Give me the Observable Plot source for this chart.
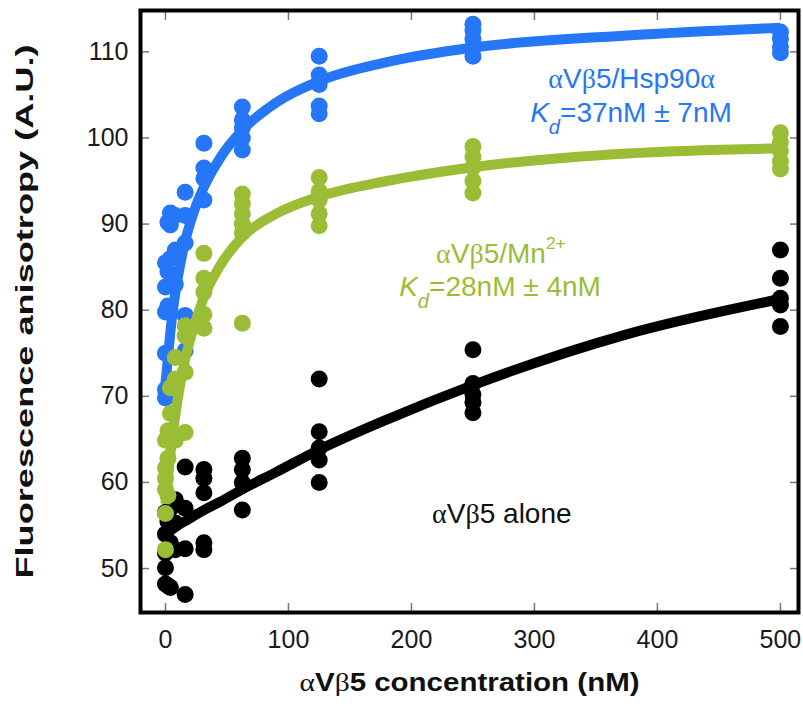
<!DOCTYPE html>
<html>
<head>
<meta charset="utf-8">
<script src="https://cdn.jsdelivr.net/npm/d3@7"></script>
<script src="https://cdn.jsdelivr.net/npm/@observablehq/plot@0.6"></script>
<style>
  html, body { margin: 0; padding: 0; background: #fff; overflow: hidden; }
</style>
</head>
<body>
<div id="chart"></div>
<script>
// Ligand concentrations (nM) of the titration
const concentrations = [0, 2, 4, 8, 16, 31.25, 62.5, 125, 250, 500];

// Replicate anisotropy readings (A.U.) at each concentration
const aloneReadings = [
  [56.5, 54.0, 51.8, 50.1, 48.2],
  [55.5, 48.0],
  [57.0, 53.0, 47.8],
  [58.0, 55.3, 52.2],
  [61.8, 57.0, 52.3, 47.0],
  [61.5, 60.5, 58.8, 53.0, 52.2],
  [62.8, 61.5, 60.0, 56.8],
  [72.0, 65.9, 64.0, 62.6, 60.0],
  [75.4, 71.5, 70.2, 69.3, 68.1],
  [87.0, 83.7, 81.4, 80.6, 78.1]
];
const hsp90Readings = [
  [85.5, 82.7, 79.8, 75.0, 70.8, 69.8],
  [90.2, 84.5, 80.5],
  [91.3, 89.9, 86.0],
  [91.0, 87.0, 83.0],
  [93.7, 91.0, 87.8, 79.4, 75.3],
  [99.4, 96.5, 95.3, 92.8],
  [103.6, 102.1, 101.2, 100.0, 98.6],
  [109.5, 107.3, 106.2, 103.7, 102.8],
  [113.2, 112.5, 111.5, 110.5, 109.5],
  [112.3, 111.5, 110.6, 109.9]
];
const mnReadings = [
  [64.9, 61.7, 60.5, 59.2, 56.4, 52.2],
  [66.0, 62.8, 58.5],
  [71.0, 68.0, 64.9],
  [74.5, 72.0, 71.3, 64.9],
  [78.2, 77.0, 72.8, 65.8],
  [86.6, 83.7, 82.1, 79.5, 77.9],
  [93.5, 92.4, 91.2, 90.0, 89.0, 78.5],
  [95.4, 93.8, 92.8, 91.2, 89.8],
  [99.0, 97.8, 96.6, 95.0, 93.6],
  [100.6, 99.5, 98.5, 97.3, 96.4]
];

// Fitted binding curves
const fitConc  = [0, 2, 4, 8, 12, 16, 24, 31.25, 45, 62.5, 90, 125, 180, 250, 375, 500];
const aloneFit = [54.0, 54.2, 54.4, 54.8, 55.2, 55.5, 56.2, 56.8, 57.8, 59.2, 61.2, 63.8, 67.3, 71.3, 77.2, 81.3];
const hsp90Fit = [71.5, 74.5, 77.5, 82.0, 85.3, 88.0, 91.8, 94.3, 97.8, 100.9, 104.1, 106.6, 108.8, 110.5, 111.9, 112.8];
const mnFit    = [57.5, 60.5, 63.3, 67.8, 71.4, 74.3, 78.5, 81.5, 85.3, 88.5, 91.2, 93.2, 95.0, 96.6, 98.2, 98.8];

// Axis ticks
const xTicks = [0, 100, 200, 300, 400, 500];
const yTicks = [50, 60, 70, 80, 90, 100, 110];

// Series labels
const seriesNames = ["αVβ5 alone", "αVβ5/Hsp90α", "αVβ5/Mn2+"];
const kdLabels = ["Kd=37nM ± 7nM", "Kd=28nM ± 4nM"];
const xTitle = "αVβ5 concentration (nM)";
const yTitle = "Fluorescence anisotropy (A.U.)";

const BLACK = "#000000", BLUE = "#2577f7", GREEN = "#9bbd35";

const series = [
  {name: seriesNames[0], readings: aloneReadings, fit: aloneFit, color: BLACK},
  {name: seriesNames[1], readings: hsp90Readings, fit: hsp90Fit, color: BLUE},
  {name: seriesNames[2], readings: mnReadings, fit: mnFit, color: GREEN}
];

const points = s => concentrations.flatMap((c, i) => s.readings[i].map(v => ({conc: c, value: v})));
const curve = s => fitConc.map((c, i) => ({conc: c, value: s.fit[i]}));

// Where the in-plot labels sit (data coordinates)
const annotations = [
  {text: seriesNames[1], x: 379, y: 106.9, color: BLUE},
  {text: kdLabels[0], x: 378.5, y: 102.9, color: BLUE},
  {text: seriesNames[2], x: 272.7, y: 86.5, color: GREEN},
  {text: kdLabels[1], x: 272, y: 82.7, color: GREEN},
  {text: seriesNames[0], x: 273.5, y: 56.3, color: "#111111"}
];

const seriesMarks = series.flatMap(s => [
  Plot.line(curve(s), {x: "conc", y: "value", stroke: s.color, strokeWidth: 10, curve: "monotone-x", strokeLinecap: "butt"}),
  Plot.dot(points(s), {x: "conc", y: "value", r: 8.5, fill: s.color, stroke: "none"})
]);

const chart = Plot.plot({
  width: 803,
  height: 715,
  marginLeft: 140,
  marginRight: 5,
  marginTop: 10,
  marginBottom: 103,
  style: {fontFamily: "'Liberation Sans', Arial, sans-serif", background: "#fff"},
  x: {domain: [-20.3, 514.7]},
  y: {domain: [44.9, 114.8]},
  color: {type: "identity"},
  marks: [
    ...seriesMarks,
    Plot.text(annotations, {x: "x", y: "y", text: "text", fill: "color", fontSize: 28}),
    // inward tick marks on all four sides
    Plot.axisX(xTicks, {anchor: "bottom", tickSize: 9, dy: -9, tickFormat: () => "", label: null, stroke: "#777", strokeWidth: 1.5}),
    Plot.axisX(xTicks, {anchor: "top", tickSize: 9, dy: 9, tickFormat: () => "", label: null, stroke: "#777", strokeWidth: 1.5}),
    Plot.axisY(yTicks, {anchor: "left", tickSize: 9, dx: 9, tickFormat: () => "", label: null, stroke: "#777", strokeWidth: 1.5}),
    Plot.axisY(yTicks, {anchor: "right", tickSize: 9, dx: -9, tickFormat: () => "", label: null, stroke: "#777", strokeWidth: 1.5}),
    // tick labels
    Plot.axisX(xTicks, {anchor: "bottom", tickSize: 0, tickPadding: 18, fontSize: 25, label: null, fill: "#1a1a1a"}),
    Plot.axisY(yTicks, {anchor: "left", tickSize: 0, tickPadding: 12, fontSize: 25, label: null, fill: "#1a1a1a"}),
    // axis titles
    Plot.text([xTitle], {frameAnchor: "bottom", dy: 78, fontSize: 26, fontWeight: "bold", fill: "#111"}),
    Plot.text([yTitle], {frameAnchor: "left", dx: -115, rotate: -90, fontSize: 24, fontWeight: "bold", fill: "#111"}),
    Plot.frame({stroke: "#000", strokeWidth: 4})
  ]
});

document.getElementById("chart").appendChild(chart);

// Greek letters in a serif face, K_d subscript, Mn²⁺ superscript
function richText(el) {
  const s = el.textContent;
  if (!/[αβ]|Kd|Mn2\+/.test(s)) return;
  const fs = parseFloat(getComputedStyle(el).fontSize);
  const segs = [];
  let plain = "";
  const flush = () => { if (plain) { segs.push({t: plain}); plain = ""; } };
  for (let i = 0; i < s.length;) {
    if (s.startsWith("Kd", i)) {
      flush();
      segs.push({t: "K", italic: true});
      segs.push({t: "d", italic: true, shift: 0.42 * fs, scale: 0.72});
      i += 2;
    } else if (s.startsWith("2+", i) && s.slice(i - 2, i) === "Mn") {
      flush();
      segs.push({t: "2+", shift: -0.5 * fs, scale: 0.62});
      i += 2;
    } else if (s[i] === "α" || s[i] === "β") {
      flush();
      segs.push({t: s[i], serif: true});
      i += 1;
    } else {
      plain += s[i];
      i += 1;
    }
  }
  flush();
  el.textContent = "";
  let cur = 0;
  for (const g of segs) {
    const ts = document.createElementNS("http://www.w3.org/2000/svg", "tspan");
    const target = g.shift || 0;
    if (target !== cur) { ts.setAttribute("dy", target - cur); cur = target; }
    if (g.italic) ts.setAttribute("font-style", "italic");
    if (g.serif) {
      ts.setAttribute("font-family", "'Liberation Serif', 'DejaVu Serif', serif");
      ts.setAttribute("font-weight", "normal");
    }
    if (g.scale) ts.setAttribute("font-size", g.scale * fs);
    ts.textContent = g.t;
    el.appendChild(ts);
  }
}

d3.select(chart).selectAll("text").each(function () {
  const t = this.textContent;
  if (t === xTitle) {
    this.setAttribute("textLength", 340);
    this.setAttribute("lengthAdjust", "spacingAndGlyphs");
  }
  if (t === yTitle) {
    // anchored at its start so the stretched title stays centred on the frame
    this.setAttribute("text-anchor", "start");
    this.setAttribute("x", -267);
    this.setAttribute("textLength", 534);
    this.setAttribute("lengthAdjust", "spacingAndGlyphs");
  }
  richText(this);
});
</script>
</body>
</html>
